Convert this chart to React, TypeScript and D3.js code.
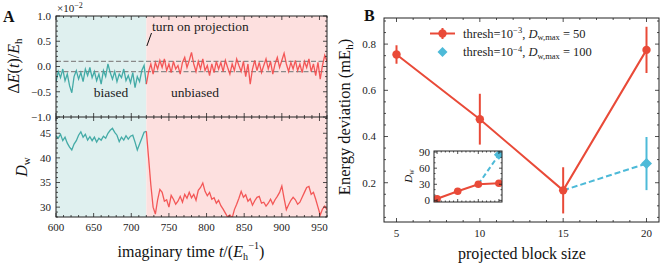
import * as d3 from "d3";

// time axis sampling (imaginary time, units of 1/E_h)
const timeStart = 600;
const timeStep = 3;
const switchTime = 720;

// energy deviation (x1e-2), biased phase 600..720
const biasedEnergy = [
  -0.3, -0.1, -0.22, -0.05, -0.28, -0.15, -0.38, -0.52, -0.2, -0.08,
  -0.25, -0.12, -0.3, -0.05, -0.18, -0.02, -0.22, -0.1, -0.28, -0.15,
  -0.35, -0.08, -0.2, 0.05, -0.12, -0.25, -0.1, -0.3, -0.15, -0.22,
  -0.05, -0.28, -0.18, -0.32, -0.12, -0.42, -0.2, -0.3, -0.08, 0.02, -0.35,
];
// unbiased phase 720..960
const unbiasedEnergy = [
  -0.35, -0.1, 0.05, -0.15, 0.08, -0.05, 0.12, -0.02, 0.15, -0.08,
  0.05, -0.12, 0.1, -0.05, 0.02, -0.15, 0.08, 0.18, -0.02, 0.12,
  0.28, 0.05, -0.1, 0.1, -0.05, 0.15, -0.08, 0.02, -0.18, 0.05,
  -0.12, 0.1, -0.05, 0.08, -0.1, 0.12, -0.02, -0.15, 0.05, -0.08,
  0.15, 0.02, -0.1, 0.1, -0.2, 0.05, -0.35, -0.05, 0.12, -0.08,
  0.08, -0.12, 0.02, 0.15, -0.05, 0.1, -0.15, 0.05, 0.18, -0.02,
  0.12, 0.26, 0.05, -0.1, 0.08, -0.05, 0.12, -0.08, 0.05, -0.12,
  0.1, -0.02, 0.15, -0.1, 0.05, -0.18, 0.08, -0.25, 0.02, 0.22, 0.1,
];

// bond dimension D_w
const biasedDw = [
  44.5, 44.0, 44.8, 43.5, 44.2, 43.0, 42.2, 41.6, 42.8, 43.5,
  44.6, 45.3, 44.2, 44.8, 43.6, 44.3, 43.5, 44.2, 43.2, 44.0,
  43.6, 44.4, 44.0, 45.0, 45.6, 46.0, 45.2, 44.6, 43.3, 44.2,
  43.6, 44.5, 43.8, 44.4, 44.6, 43.2, 41.6, 42.8, 44.0, 45.2, 45.4,
];
const unbiasedDw = [
  45.4, 40.0, 34.5, 30.0, 28.6, 31.5, 33.6, 33.0, 31.2, 31.5,
  30.0, 32.4, 31.6, 30.6, 31.2, 32.2, 31.0, 32.6, 31.8, 33.0,
  31.9, 32.6, 31.4, 33.4, 34.0, 34.9, 33.2, 32.3, 33.0, 31.6,
  31.9, 30.8, 31.4, 30.3, 29.6, 28.8, 28.0, 28.4, 27.8, 29.5,
  30.6, 31.8, 33.2, 32.0, 32.5, 31.2, 31.7, 30.4, 31.3, 32.0,
  32.2, 30.8, 31.0, 30.2, 30.8, 31.6, 30.6, 31.5, 32.2, 33.0,
  34.3, 31.8, 29.5, 30.5, 31.4, 32.0, 31.5, 30.6, 31.0, 32.0,
  33.0, 34.0, 34.2, 32.6, 33.0, 31.6, 30.0, 28.4, 29.6, 30.2, 29.5,
];

// panel B
const blockSizes = [5, 10, 15, 20];
const deviation3 = [0.755, 0.475, 0.167, 0.775];
const deviationErr3 = [0.04, 0.11, 0.1, 0.1];
const blockSizes4 = [15, 20];
const deviation4 = [0.167, 0.283];
const deviationErr4 = [0, 0.115];
const insetDw3 = [3, 17, 30, 32];
const insetDw4 = [30, 85];

const RED_A = "#f24848";
const TEAL_A = "#3ba7a2";
const RED_B = "#e94a38";
const BLUE_B = "#4dbad8";
const FONT = "'Liberation Serif', 'DejaVu Serif', serif";

type Sc = d3.ScaleLinear<number, number>;

const TickSet = ({ scale, values, side, at, len }:
  { scale: Sc; values: number[]; side: "bottom" | "top" | "left" | "right"; at: number; len: number }) => (
  <g stroke="#222" strokeWidth={0.8}>
    {values.map((v, i) => {
      const p = scale(v);
      if (side === "bottom") return <line key={i} x1={p} x2={p} y1={at} y2={at - len} />;
      if (side === "top") return <line key={i} x1={p} x2={p} y1={at} y2={at + len} />;
      if (side === "left") return <line key={i} y1={p} y2={p} x1={at} x2={at + len} />;
      return <line key={i} y1={p} y2={p} x1={at} x2={at - len} />;
    })}
  </g>
);

const frameTicks = (xs: Sc, ys: Sc, xMaj: number[], xMin: number[], yMaj: number[], yMin: number[],
  box: { l: number; r: number; t: number; b: number }, major = 4, minor = 2) => (
  <g>
    <TickSet scale={xs} values={xMaj} side="bottom" at={box.b} len={major} />
    <TickSet scale={xs} values={xMin} side="bottom" at={box.b} len={minor} />
    <TickSet scale={xs} values={xMaj} side="top" at={box.t} len={major} />
    <TickSet scale={xs} values={xMin} side="top" at={box.t} len={minor} />
    <TickSet scale={ys} values={yMaj} side="left" at={box.l} len={major} />
    <TickSet scale={ys} values={yMin} side="left" at={box.l} len={minor} />
    <TickSet scale={ys} values={yMaj} side="right" at={box.r} len={major} />
    <TickSet scale={ys} values={yMin} side="right" at={box.r} len={minor} />
  </g>
);

const fmtMinus = (s: string) => s.replace("-", "\u2212");

export default function App() {
  // ---------- panel A ----------
  const aBox = { l: 56, r: 327, t: 16, mid: 117, b: 217 };
  const x = d3.scaleLinear().domain([600, 960]).range([aBox.l, aBox.r]);
  const yE = d3.scaleLinear().domain([-1, 1]).range([aBox.mid, aBox.t]);
  const yD = d3.scaleLinear().domain([28, 48.3]).range([aBox.b, aBox.mid]);

  const bE = biasedEnergy.map((v, i) => [timeStart + i * timeStep, v] as [number, number]);
  const uE = unbiasedEnergy.map((v, i) => [switchTime + i * timeStep, v] as [number, number]);
  const bD = biasedDw.map((v, i) => [timeStart + i * timeStep, v] as [number, number]);
  const uD = unbiasedDw.map((v, i) => [switchTime + i * timeStep, v] as [number, number]);

  const lineE = d3.line<[number, number]>().x(d => x(d[0])).y(d => yE(d[1]));
  const lineD = d3.line<[number, number]>().x(d => x(d[0])).y(d => yD(d[1]));

  const xMajA = d3.range(600, 961, 50);
  const xMinA = d3.range(600, 961, 10).filter(v => v % 50 !== 0);
  const yMajE = [-1, -0.5, 0, 0.5, 1];
  const yMinE = d3.range(-1, 1.001, 0.1).filter(v => Math.abs(v * 2 - Math.round(v * 2)) > 1e-6);
  const yMajD = [30, 35, 40, 45];
  const yMinD = d3.range(28, 49, 1).filter(v => v % 5 !== 0);

  // ---------- panel B ----------
  const bBox = { l: 384, r: 659, t: 18, b: 222 };
  const xB = d3.scaleLinear().domain([4.25, 20.75]).range([bBox.l, bBox.r]);
  const yB = d3.scaleLinear().domain([0.03, 0.913]).range([bBox.b, bBox.t]);
  const lineB = d3.line<number>().x((_, i) => xB(blockSizes[i])).y(d => yB(d));
  const lineB4 = d3.line<number>().x((_, i) => xB(blockSizes4[i])).y(d => yB(d));

  const iBox = { l: 434, r: 502, t: 151, b: 202 };
  const xI = d3.scaleLinear().domain([4.25, 20.75]).range([iBox.l, iBox.r]);
  const yI = d3.scaleLinear().domain([-3, 92]).range([iBox.b, iBox.t]);
  const lineI = d3.line<number>().x((_, i) => xI(blockSizes[i])).y(d => yI(d));
  const lineI4 = d3.line<number>().x((_, i) => xI(blockSizes4[i])).y(d => yI(d));

  const xMajB = [5, 10, 15, 20];
  const xMinB = d3.range(5, 21, 1).filter(v => v % 5 !== 0);
  const yMajB = [0.2, 0.4, 0.6, 0.8];
  const yMinB = d3.range(0.05, 0.91, 0.05).filter(v => Math.abs(v * 5 - Math.round(v * 5)) > 1e-6);
  const yMajI = [0, 30, 60, 90];
  const yMinI = d3.range(0, 91, 10).filter(v => v % 30 !== 0);

  const diamond = (cx: number, cy: number, r: number) =>
    `M${cx},${cy - r}L${cx + r},${cy}L${cx},${cy + r}L${cx - r},${cy}Z`;

  const tick = { fontSize: 11, fill: "#222" } as const;

  return (
    <svg width={664} height={268} style={{ position: "absolute", left: 0, top: 0, background: "#fff", fontFamily: FONT }}>
      {/* ===== Panel A ===== */}
      <rect x={x(600)} y={aBox.t} width={x(switchTime) - x(600)} height={aBox.b - aBox.t} fill="#dff0ef" />
      <rect x={x(switchTime)} y={aBox.t} width={x(960) - x(switchTime)} height={aBox.b - aBox.t} fill="#fde0df" />

      {[-0.1, 0.1].map(v => (
        <line key={v} x1={aBox.l} x2={aBox.r} y1={yE(v)} y2={yE(v)} stroke="#8a8a8a" strokeWidth={1.3} strokeDasharray="5,2.5" />
      ))}

      <g clipPath="url(#clipE)">
        <path d={lineE(bE) ?? ""} fill="none" stroke={TEAL_A} strokeWidth={1.3} strokeOpacity={0.95} />
        <path d={lineE(uE) ?? ""} fill="none" stroke={RED_A} strokeWidth={1.3} strokeOpacity={0.9} />
      </g>
      <g clipPath="url(#clipD)">
        <path d={lineD(bD) ?? ""} fill="none" stroke={TEAL_A} strokeWidth={1.3} strokeOpacity={0.95} />
        <path d={lineD(uD) ?? ""} fill="none" stroke={RED_A} strokeWidth={1.3} strokeOpacity={0.9} />
      </g>
      <defs>
        <clipPath id="clipE"><rect x={aBox.l} y={aBox.t} width={aBox.r - aBox.l} height={aBox.mid - aBox.t} /></clipPath>
        <clipPath id="clipD"><rect x={aBox.l} y={aBox.mid} width={aBox.r - aBox.l} height={aBox.b - aBox.mid} /></clipPath>
      </defs>

      {frameTicks(x, yE, xMajA, xMinA, yMajE, yMinE, { l: aBox.l, r: aBox.r, t: aBox.t, b: aBox.mid })}
      {frameTicks(x, yD, xMajA, xMinA, yMajD, yMinD, { l: aBox.l, r: aBox.r, t: aBox.mid, b: aBox.b })}
      <rect x={aBox.l} y={aBox.t} width={aBox.r - aBox.l} height={aBox.b - aBox.t} fill="none" stroke="#222" strokeWidth={1} />
      <line x1={aBox.l} x2={aBox.r} y1={aBox.mid} y2={aBox.mid} stroke="#222" strokeWidth={1} />

      {yMajE.map(v => (
        <text key={v} x={aBox.l - 5} y={yE(v)} dy="0.35em" textAnchor="end" {...tick}>{fmtMinus(d3.format(".1f")(v))}</text>
      ))}
      {yMajD.map(v => (
        <text key={v} x={aBox.l - 5} y={yD(v)} dy="0.35em" textAnchor="end" {...tick}>{v}</text>
      ))}
      {xMajA.map(v => (
        <text key={v} x={x(v)} y={aBox.b + 14} textAnchor="middle" {...tick}>{v}</text>
      ))}

      <text x={57} y={12} fontSize={11} fill="#222">×10<tspan dy={-4} fontSize={8}>−2</tspan></text>
      <text x={3} y={22} fontSize={16} fontWeight="bold" fill="#111">A</text>

      <text transform={`translate(19,66) rotate(-90)`} textAnchor="middle" fontSize={16} fill="#111">
        Δ<tspan fontStyle="italic">E</tspan>(<tspan fontStyle="italic">t</tspan>)/<tspan fontStyle="italic">E</tspan>
        <tspan fontSize={11} dy={3}>h</tspan>
      </text>
      <text transform={`translate(27,167) rotate(-90)`} textAnchor="middle" fontSize={16} fill="#111">
        <tspan fontStyle="italic">D</tspan><tspan fontSize={11} dy={3}>w</tspan>
      </text>
      <text x={191} y={257} textAnchor="middle" fontSize={16} fill="#111">
        imaginary time <tspan fontStyle="italic">t</tspan>/(<tspan fontStyle="italic">E</tspan>
        <tspan fontSize={10} dy={3}>h</tspan><tspan fontSize={10} dx={0.5} dy={-11}>−1</tspan>
        <tspan dy={8}>)</tspan>
      </text>

      <text x={152} y={31} fontSize={13.5} fill="#222">turn on projection</text>
      <line x1={x(switchTime) + 0.5} y1={46} x2={151.5} y2={33} stroke="#111" strokeWidth={1} />
      <text x={111} y={97} textAnchor="middle" fontSize={13.5} fill="#222">biased</text>
      <text x={195} y={97} textAnchor="middle" fontSize={13.5} fill="#222">unbiased</text>

      {/* ===== Panel B ===== */}
      {frameTicks(xB, yB, xMajB, xMinB, yMajB, yMinB, bBox)}
      <rect x={bBox.l} y={bBox.t} width={bBox.r - bBox.l} height={bBox.b - bBox.t} fill="none" stroke="#222" strokeWidth={1} />
      {yMajB.map(v => (
        <text key={v} x={bBox.l - 8} y={yB(v)} dy="0.35em" textAnchor="end" {...tick}>{d3.format(".1f")(v)}</text>
      ))}
      {xMajB.map(v => (
        <text key={v} x={xB(v)} y={bBox.b + 15} textAnchor="middle" {...tick}>{v}</text>
      ))}
      <text x={364} y={21} fontSize={16} fontWeight="bold" fill="#111">B</text>
      <text transform={`translate(350,117) rotate(-90)`} textAnchor="middle" fontSize={16.5} fill="#111">
        Energy deviation (mE<tspan fontSize={11} dy={3}>h</tspan><tspan dy={-3}>)</tspan>
      </text>
      <text x={522} y={259} textAnchor="middle" fontSize={16} fill="#111">projected block size</text>

      {/* blue series (thresh 1e-4) */}
      <path d={lineB4(deviation4) ?? ""} fill="none" stroke={BLUE_B} strokeWidth={2} strokeDasharray="6,3" />
      {deviation4.map((v, i) => deviationErr4[i] > 0 && (
        <g key={i}>
          <line x1={xB(blockSizes4[i])} x2={xB(blockSizes4[i])} y1={yB(v - deviationErr4[i])} y2={yB(v + deviationErr4[i])}
            stroke={BLUE_B} strokeWidth={2} />
          <path d={diamond(xB(blockSizes4[i]), yB(v), 5.5)} fill={BLUE_B} />
        </g>
      ))}
      {/* red series (thresh 1e-3) */}
      <path d={lineB(deviation3) ?? ""} fill="none" stroke={RED_B} strokeWidth={2} />
      {deviation3.map((v, i) => (
        <g key={i}>
          <line x1={xB(blockSizes[i])} x2={xB(blockSizes[i])} y1={yB(v - deviationErr3[i])} y2={yB(v + deviationErr3[i])}
            stroke={RED_B} strokeWidth={2} />
          <circle cx={xB(blockSizes[i])} cy={yB(v)} r={4.2} fill={RED_B} />
        </g>
      ))}

      {/* legend */}
      <line x1={430} x2={455} y1={33.5} y2={33.5} stroke={RED_B} strokeWidth={2} />
      <line x1={442.5} x2={442.5} y1={28} y2={39} stroke={RED_B} strokeWidth={2} />
      <circle cx={442.5} cy={33.5} r={4.2} fill={RED_B} />
      <text x={463} y={37.5} fontSize={12.5} fill="#222">
        thresh=10<tspan fontSize={8.5} dy={-4.5}>−3</tspan><tspan dy={4.5}>, </tspan>
        <tspan fontStyle="italic">D</tspan><tspan fontSize={8.5} dy={2.5}>w,max</tspan><tspan dy={-2.5}> = 50</tspan>
      </text>
      <path d={diamond(442.5, 52, 5)} fill={BLUE_B} />
      <text x={463} y={56} fontSize={12.5} fill="#222">
        thresh=10<tspan fontSize={8.5} dy={-4.5}>−4</tspan><tspan dy={4.5}>, </tspan>
        <tspan fontStyle="italic">D</tspan><tspan fontSize={8.5} dy={2.5}>w,max</tspan><tspan dy={-2.5}> = 100</tspan>
      </text>

      {/* inset */}
      <rect x={iBox.l} y={iBox.t} width={iBox.r - iBox.l} height={iBox.b - iBox.t} fill="#fff" />
      <g clipPath="url(#clipI)">
        <path d={lineI4(insetDw4) ?? ""} fill="none" stroke={BLUE_B} strokeWidth={2} strokeDasharray="5,3" />
        <path d={diamond(xI(blockSizes4[1]), yI(insetDw4[1]), 5)} fill={BLUE_B} />
        <path d={lineI(insetDw3) ?? ""} fill="none" stroke={RED_B} strokeWidth={2} />
        {insetDw3.map((v, i) => <circle key={i} cx={xI(blockSizes[i])} cy={yI(v)} r={3.8} fill={RED_B} />)}
      </g>
      <defs>
        <clipPath id="clipI"><rect x={iBox.l} y={iBox.t} width={iBox.r - iBox.l} height={iBox.b - iBox.t} /></clipPath>
      </defs>
      {frameTicks(xI, yI, xMajB, xMinB, yMajI, yMinI, iBox, 3, 1.5)}
      <rect x={iBox.l} y={iBox.t} width={iBox.r - iBox.l} height={iBox.b - iBox.t} fill="none" stroke="#222" strokeWidth={1} />
      {yMajI.map(v => (
        <text key={v} x={iBox.l - 4} y={yI(v)} dy="0.35em" textAnchor="end" {...tick}>{v}</text>
      ))}
      <text transform={`translate(412,176) rotate(-90)`} textAnchor="middle" fontSize={11} fill="#111">
        <tspan fontStyle="italic">D</tspan><tspan fontSize={7.5} dy={2}>w</tspan>
      </text>
    </svg>
  );
}
